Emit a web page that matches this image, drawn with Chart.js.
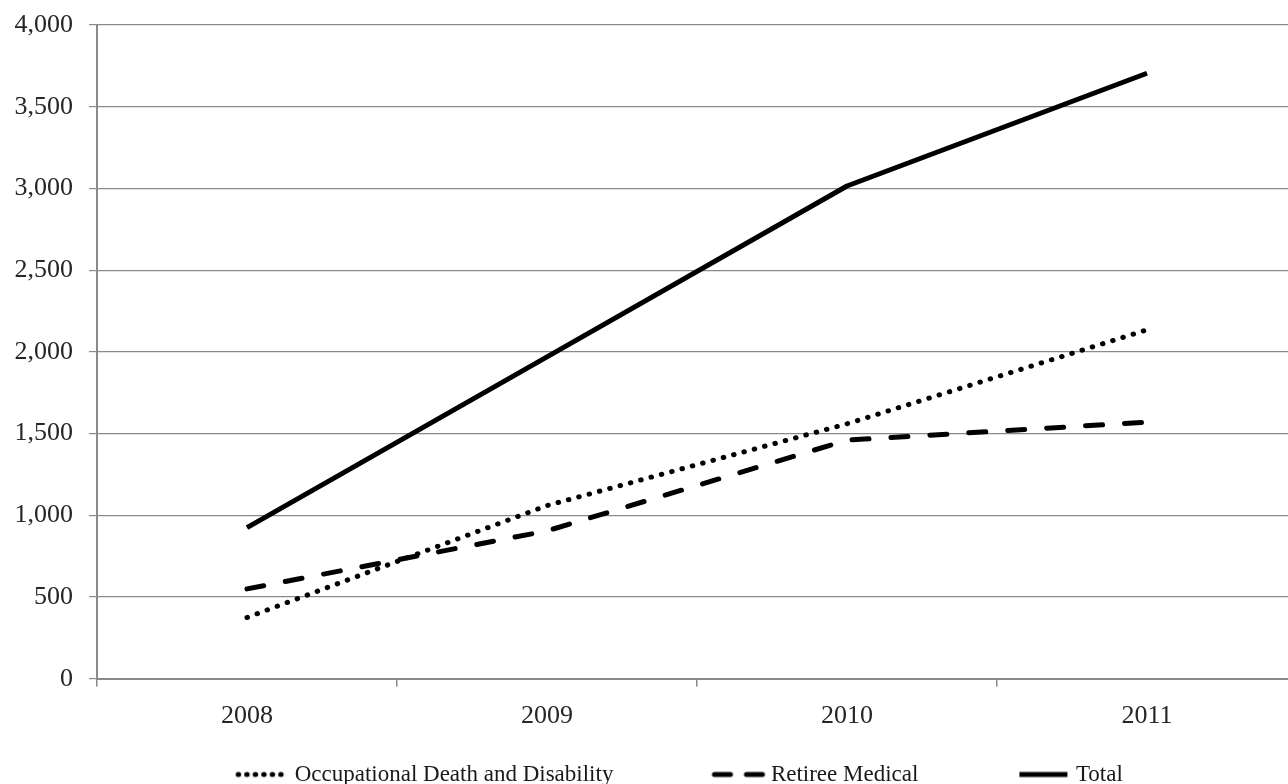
<!DOCTYPE html>
<html lang="en">
<head>
<meta charset="UTF-8">
<title>Occupational Death and Disability, Retiree Medical, Total</title>
<script src="https://cdn.jsdelivr.net/npm/chart.js"></script>
<style>
  html, body { margin: 0; padding: 0; overflow: hidden; background: #fff; }
  #wrap { width: 1300px; height: 784px; }
</style>
</head>
<body>
<div id="wrap"><canvas id="grafico"></canvas></div>

<script>
// dados
const anos = ['2008', '2009', '2010', '2011'];
const occupational = [375, 1060, 1560, 2135];
const retiree = [550, 905, 1460, 1570];
const total = [925, 1970, 3015, 3705];

const yMin = 0;
const yMax = 4000;
const yStep = 500;

const FONTE = "'Liberation Serif', 'DejaVu Serif', serif";
const CINZA = '#8a8a8a';
const LEGEND_PAD = 90;

// amostra da linha para a legenda (a imagem passa um pouco da caixa para encostar no texto)
function amostra(dash, cap) {
    const c = document.createElement('canvas');
    c.width = 70;
    c.height = 10;
    const ctx = c.getContext('2d');
    ctx.strokeStyle = '#000';
    ctx.lineWidth = 5;
    ctx.lineCap = cap;
    ctx.setLineDash(dash);
    ctx.beginPath();
    ctx.moveTo(18, 5);
    ctx.lineTo(66, 5);
    ctx.stroke();
    return c;
}

// a legenda usa padding grande entre os itens; puxa a caixa para cima
const ajusteLegenda = {
    id: 'ajusteLegenda',
    afterLayout(chart) {
        const lg = chart.legend;
        lg.top = chart.height - 21 - LEGEND_PAD;
        lg.left -= 22;
        lg.right -= 22;
    }
};

new Chart(document.getElementById('grafico'), {
    type: 'line',
    data: {
        labels: anos,
        datasets: [
            {
                label: 'Occupational Death and Disability',
                data: occupational,
                borderColor: '#000',
                borderWidth: 5,
                borderDash: [0.5, 10.2],
                borderCapStyle: 'round',
                pointStyle: amostra([0.5, 8], 'round')
            },
            {
                label: 'Retiree Medical',
                data: retiree,
                borderColor: '#000',
                borderWidth: 5,
                borderDash: [17, 22],
                borderCapStyle: 'round',
                pointStyle: amostra([16, 16], 'round')
            },
            {
                label: 'Total',
                data: total,
                borderColor: '#000',
                borderWidth: 5,
                borderCapStyle: 'butt',
                pointStyle: amostra([], 'butt')
            }
        ]
    },
    options: {
        responsive: true,
        maintainAspectRatio: false,
        animation: false,
        events: [],
        layout: { padding: { top: 0, right: 3, left: 0, bottom: 0 } },
        elements: {
            line: { tension: 0, fill: false, borderJoinStyle: 'round' },
            point: { radius: 0, hoverRadius: 0 }
        },
        scales: {
            x: {
                offset: true,
                grid: {
                    offset: true,
                    drawOnChartArea: false,
                    drawTicks: true,
                    tickLength: 8,
                    color: CINZA,
                    lineWidth: 1.5
                },
                border: { color: CINZA, width: 2 },
                ticks: {
                    color: '#262626',
                    padding: 14,
                    font: { family: FONTE, size: 26 }
                }
            },
            y: {
                min: yMin,
                max: yMax,
                afterFit(scale) {
                    scale.width = 97;
                    scale.paddingTop = 25;
                    scale.paddingBottom = 0;
                },
                grid: {
                    color: CINZA,
                    lineWidth: 1.2,
                    tickLength: 8
                },
                border: { color: CINZA, width: 2 },
                ticks: {
                    stepSize: yStep,
                    color: '#262626',
                    padding: 16,
                    font: { family: FONTE, size: 26 }
                }
            }
        },
        plugins: {
            legend: {
                position: 'bottom',
                fullSize: false,
                maxHeight: 38,
                labels: {
                    usePointStyle: true,
                    pointStyleWidth: 56,
                    padding: LEGEND_PAD,
                    color: '#1a1a1a',
                    font: { family: FONTE, size: 23 }
                }
            },
            tooltip: { enabled: false }
        }
    },
    plugins: [ajusteLegenda]
});
</script>
</body>
</html>
